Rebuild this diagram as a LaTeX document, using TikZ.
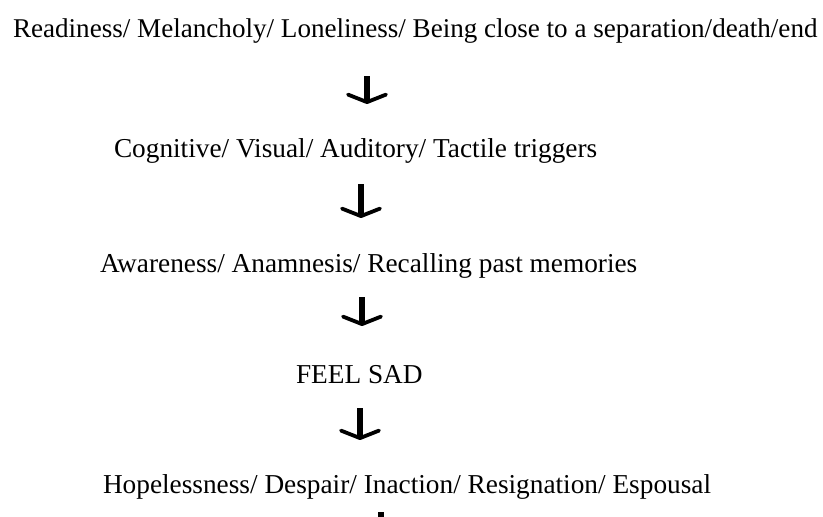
\documentclass[tikz,border=0pt]{standalone}
\usepackage{fontspec}
\setmainfont{Liberation Serif}
\usetikzlibrary{arrows.meta}
\tikzset{
  stage/.style={anchor=base west, inner sep=0pt, outer sep=0pt,
    font=\fontsize{27.3}{30}\selectfont, text=black},
  flow/.style={line width=5.2pt, black,
    -{Straight Barb[length=7.5pt, width=38pt, line width=3.8pt, round]}},
}
\begin{document}
\begin{tikzpicture}[x=1pt, y=-1pt]
  \useasboundingbox (0,0) rectangle (823,517);
  \fill[white] (0,0) rectangle (823,517);

  % stages of the process
  \node[stage, font=\fontsize{27.1}{30}\selectfont] (s1) at (13,37)
    {Readiness/ Melancholy/ Loneliness/ Being close to a separation/death/end};
  \node[stage] (s2) at (114,157) {Cognitive/ Visual/ Auditory/ Tactile triggers};
  \node[stage] (s3) at (100,272) {Awareness/ Anamnesis/ Recalling past memories};
  \node[stage] (s4) at (296,383) {FEEL SAD};
  \node[stage] (s5) at (103,493) {Hopelessness/ Despair/ Inaction/ Resignation/ Espousal};

  % arrow end points
  \coordinate (a1t) at (367,76);  \coordinate (a1b) at (367,104);
  \coordinate (a2t) at (361,184); \coordinate (a2b) at (361,218);
  \coordinate (a3t) at (362,297); \coordinate (a3b) at (362,326);
  \coordinate (a4t) at (360,408); \coordinate (a4b) at (360,440);
  \coordinate (a5t) at (381,512); \coordinate (a5b) at (381,545);

  \draw[flow] (a1t) -- (a1b);
  \draw[flow] (a2t) -- (a2b);
  \draw[flow] (a3t) -- (a3b);
  \draw[flow] (a4t) -- (a4b);
  \begin{scope}
    \clip (0,0) rectangle (823,517);
    \draw[flow] (a5t) -- (a5b);
  \end{scope}
\end{tikzpicture}
\end{document}
